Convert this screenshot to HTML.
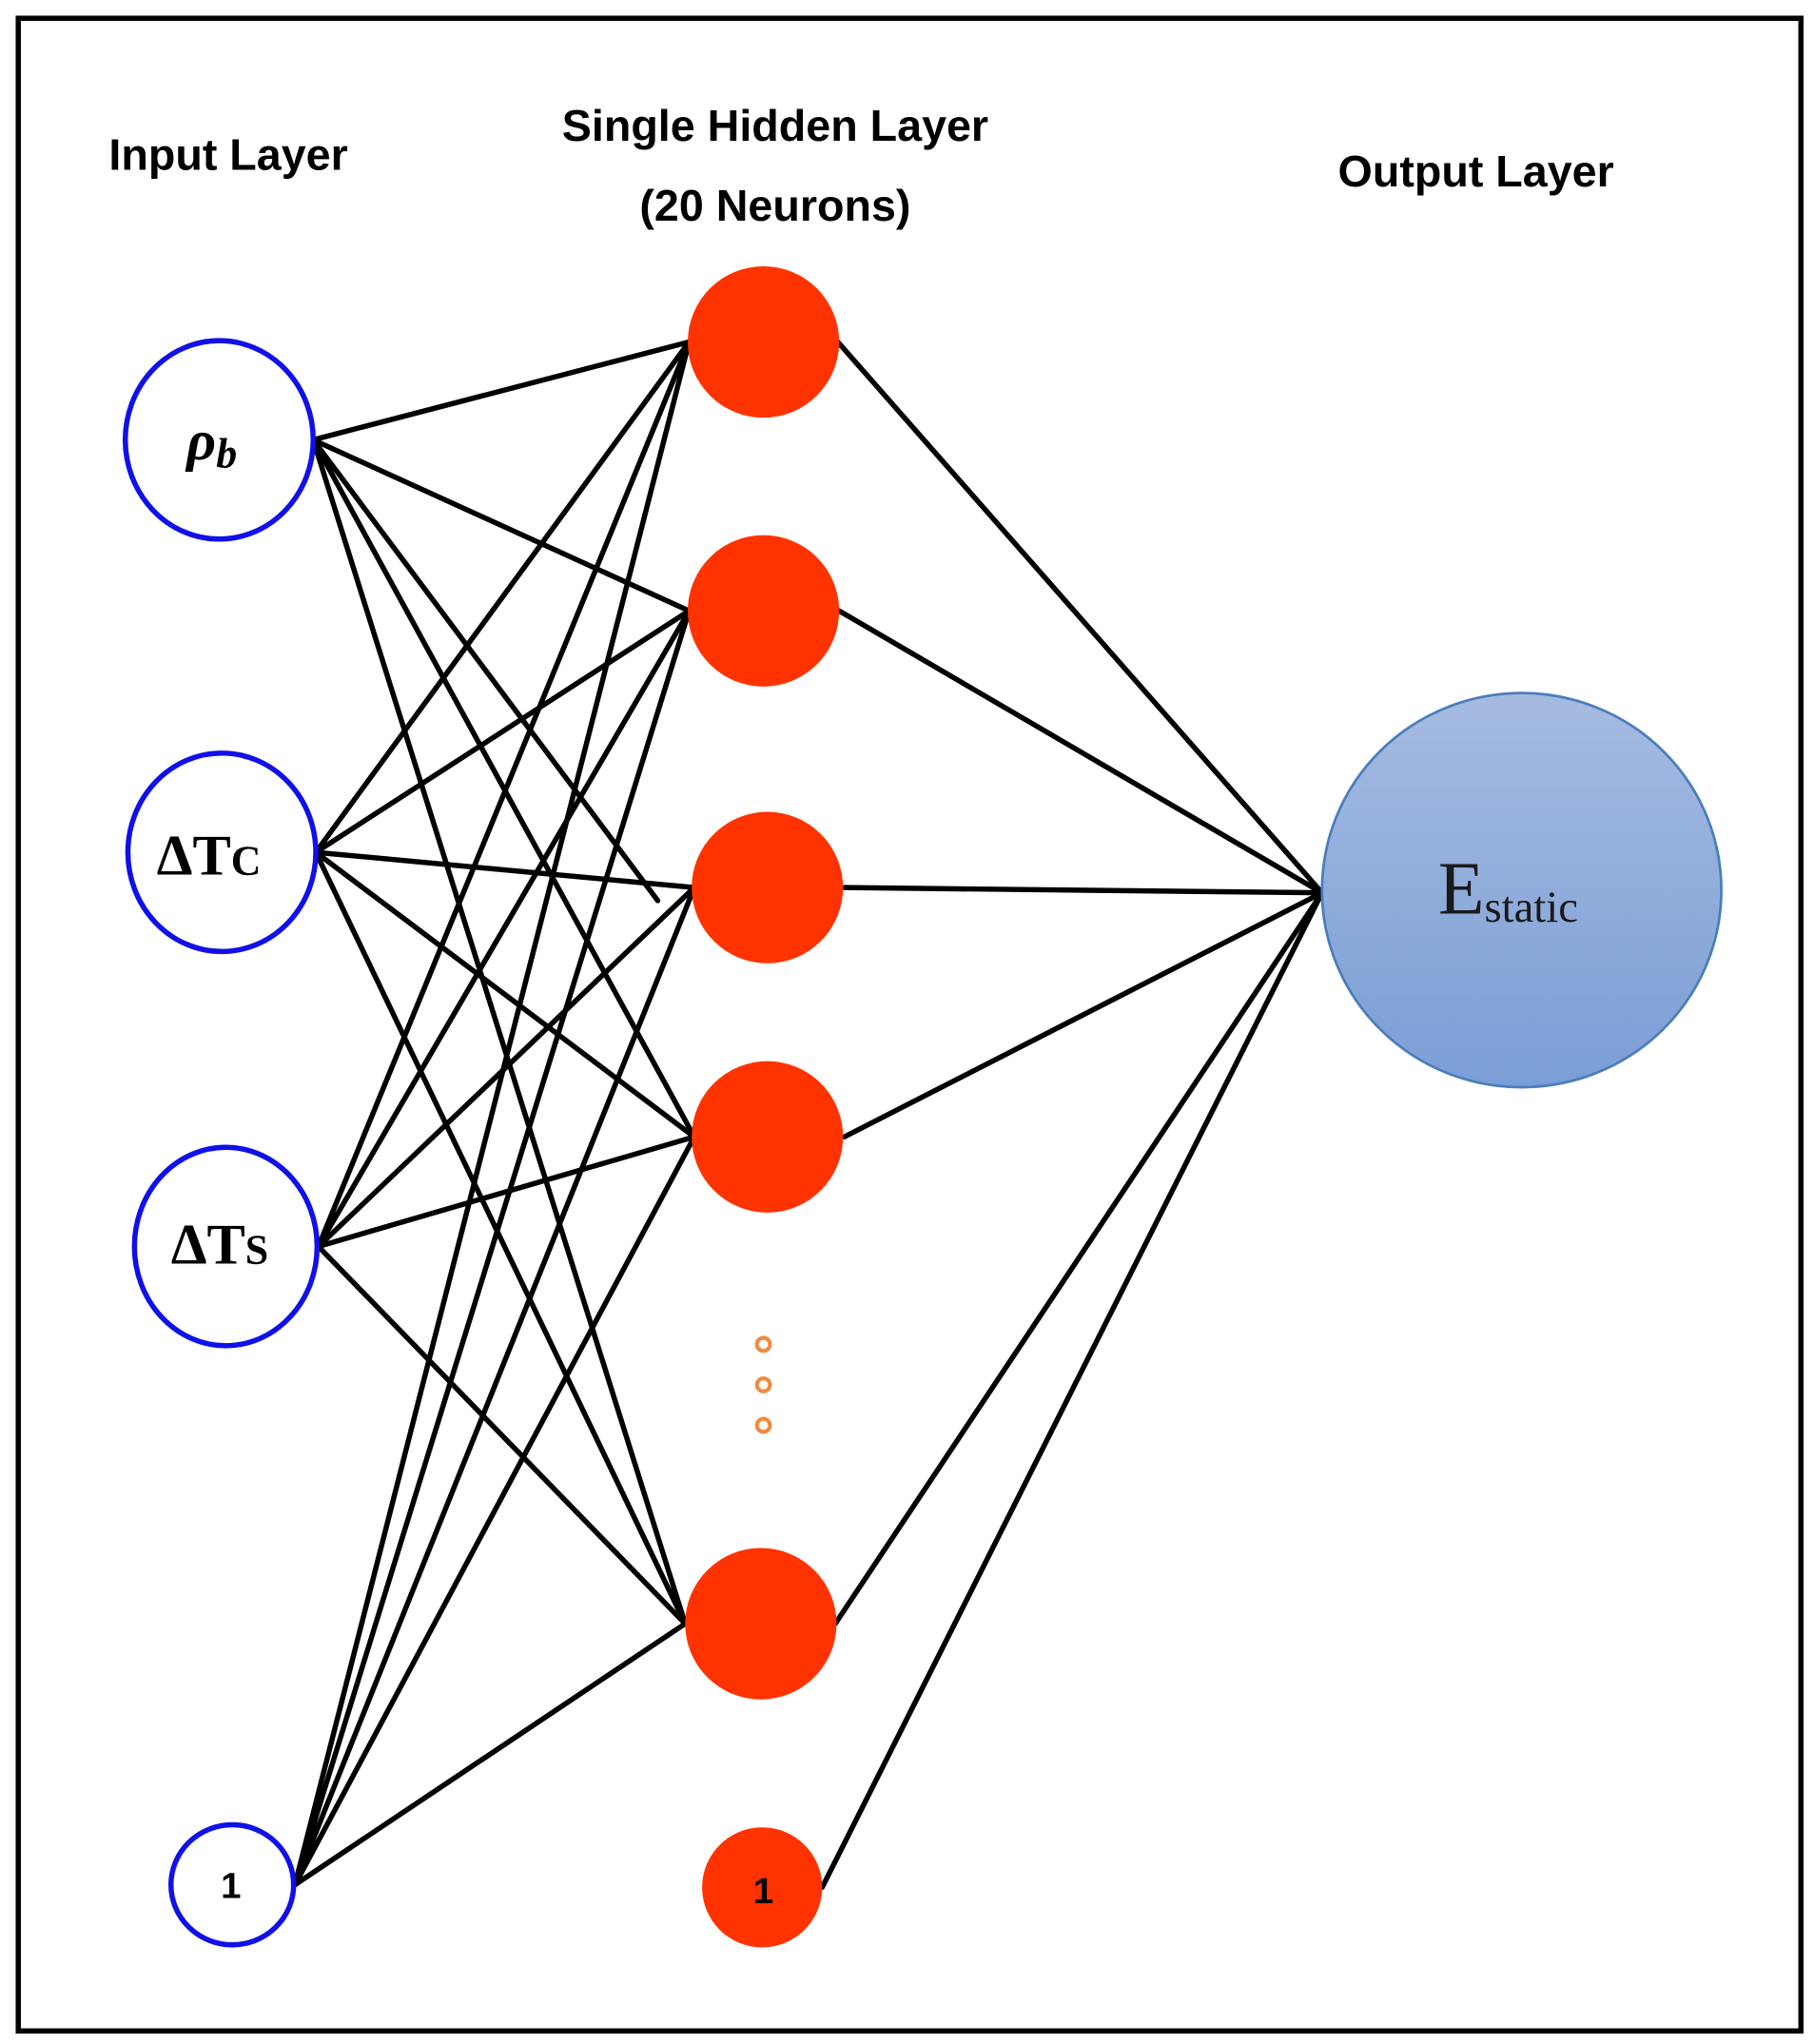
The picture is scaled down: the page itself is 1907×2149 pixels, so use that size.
<!DOCTYPE html>
<html><head><meta charset="utf-8"><style>
html,body{margin:0;padding:0;background:#fff;}
svg{display:block;}
</style></head><body>
<svg width="1907" height="2149" viewBox="0 0 1390 1566" preserveAspectRatio="none" xmlns="http://www.w3.org/2000/svg">
<defs>
<linearGradient id="g" x1="0" y1="0" x2="0" y2="1">
<stop offset="0" stop-color="#a6bbe1"/><stop offset="1" stop-color="#7a9ed6"/>
</linearGradient>
</defs>
<rect x="0" y="0" width="1390" height="1566" fill="#fff"/>
<rect x="14" y="14" width="1366" height="1542" fill="none" stroke="#000" stroke-width="4"/>
<g font-family="Liberation Sans, sans-serif" font-weight="bold" font-size="34" fill="#000" text-anchor="middle">
<text x="175" y="130">Input Layer</text>
<text x="594" y="108">Single Hidden Layer</text>
<text x="594" y="169">(20 Neurons)</text>
<text x="1131" y="143">Output Layer</text>
</g>
<g stroke="#000" stroke-width="4" stroke-linecap="round">
<!-- input to hidden -->
<line x1="240" y1="337" x2="528" y2="262"/><line x1="240" y1="337" x2="528" y2="468"/><line x1="240" y1="337" x2="504" y2="690"/><line x1="240" y1="337" x2="532" y2="871"/><line x1="240" y1="337" x2="525" y2="1244"/>
<line x1="242" y1="653" x2="528" y2="262"/><line x1="242" y1="653" x2="528" y2="468"/><line x1="242" y1="653" x2="532" y2="680"/><line x1="242" y1="653" x2="532" y2="871"/><line x1="242" y1="653" x2="525" y2="1244"/>
<line x1="244" y1="955" x2="528" y2="262"/><line x1="244" y1="955" x2="528" y2="468"/><line x1="244" y1="955" x2="532" y2="680"/><line x1="244" y1="955" x2="532" y2="871"/><line x1="244" y1="955" x2="525" y2="1244"/>
<line x1="226" y1="1444" x2="528" y2="262"/><line x1="226" y1="1444" x2="528" y2="468"/><line x1="226" y1="1444" x2="532" y2="680"/><line x1="226" y1="1444" x2="532" y2="871"/><line x1="226" y1="1444" x2="525" y2="1244"/>
<!-- hidden to output -->
<line x1="642" y1="262" x2="1013" y2="684"/><line x1="643" y1="468" x2="1013" y2="684"/><line x1="647" y1="680" x2="1013" y2="684"/><line x1="647" y1="871" x2="1013" y2="684"/><line x1="640" y1="1244" x2="1013" y2="684"/><line x1="630" y1="1446" x2="1013" y2="684"/>
</g>
<g fill="#fff" stroke="#1010e8" stroke-width="4">
<ellipse cx="168" cy="337" rx="72" ry="76"/>
<ellipse cx="170" cy="653" rx="72" ry="76"/>
<ellipse cx="173" cy="955" rx="70" ry="76"/>
<ellipse cx="178" cy="1444" rx="47" ry="46"/>
</g>
<g fill="#ff3300">
<circle cx="585" cy="262" r="58"/><circle cx="585" cy="468" r="58"/><circle cx="588" cy="680" r="58"/><circle cx="588" cy="871" r="58"/><circle cx="583" cy="1244" r="58"/><circle cx="584" cy="1446" r="46"/>
</g>
<g fill="none" stroke="#f08a40" stroke-width="3">
<circle cx="585" cy="1030" r="5"/><circle cx="585" cy="1061" r="5"/><circle cx="585" cy="1092" r="5"/>
</g>
<ellipse cx="1166" cy="682" rx="153" ry="151" fill="url(#g)" stroke="#4a7ebb" stroke-width="2"/>
<g font-family="Liberation Serif, serif" font-weight="bold" fill="#000">
<text x="143" y="352" font-size="44" font-style="italic">ρ<tspan font-size="32" dy="6">b</tspan></text>
<text x="120" y="670" font-size="44">ΔT<tspan font-size="32">C</tspan></text>
<text x="131" y="968" font-size="44">ΔT<tspan font-size="32">S</tspan></text>
</g>
<text x="177" y="1454" font-family="Liberation Sans, sans-serif" font-weight="bold" font-size="28" text-anchor="middle">1</text>
<text x="585" y="1458" font-family="Liberation Sans, sans-serif" font-weight="bold" font-size="28" text-anchor="middle">1</text>
<text x="1102" y="700" font-family="Liberation Serif, serif" font-size="58" fill="#1a1a1a">E<tspan font-size="34" dy="6">static</tspan></text>
</svg>
</body></html>
